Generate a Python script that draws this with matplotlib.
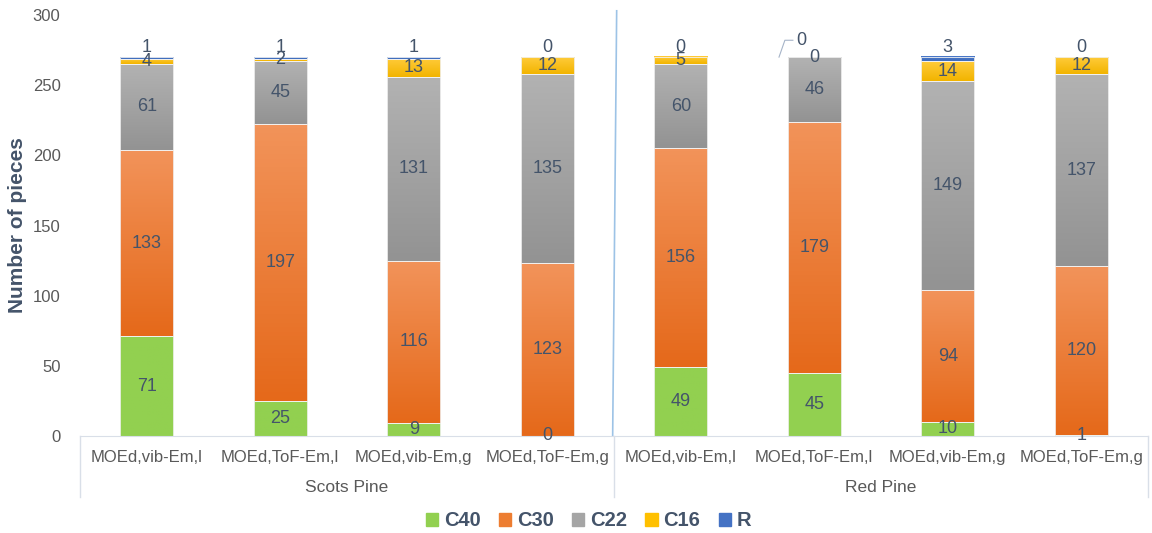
import numpy as np
import matplotlib
matplotlib.use("Agg")
import matplotlib.pyplot as plt
from matplotlib.colors import LinearSegmentedColormap

plt.rcParams["font.family"] = ["Liberation Sans", "DejaVu Sans"]

# data
species = ["Scots Pine", "Red Pine"]
methods = ["MOEd,vib-Em,l", "MOEd,ToF-Em,l", "MOEd,vib-Em,g", "MOEd,ToF-Em,g"]
grades = ["C40", "C30", "C22", "C16", "R"]
c40 = [71, 25, 9, 0, 49, 45, 10, 1]
c30 = [133, 197, 116, 123, 156, 179, 94, 120]
c22 = [61, 45, 131, 135, 60, 46, 149, 137]
c16 = [4, 2, 13, 12, 5, 0, 14, 12]
r = [1, 1, 1, 0, 0, 0, 3, 0]

# (top colour, bottom colour) per grade
grade_colors = {
    "C40": ("#92d050", "#92d050"),
    "C30": ("#f2935a", "#e5691a"),
    "C22": ("#b2b2b2", "#939393"),
    "C16": ("#ffcb3a", "#f2b400"),
    "R": ("#4a78c8", "#3f6cbc"),
}
legend_colors = {"C40": "#92d050", "C30": "#ed7d31", "C22": "#a5a5a5",
                 "C16": "#ffc000", "R": "#4472c4"}
text_col = "#44546a"

fig = plt.figure(figsize=(11.52, 5.33), dpi=100)
ax = fig.add_axes([80 / 1152, 1 - 436 / 533, 1068 / 1152, 421 / 533])

n = len(c40)
x = np.arange(n)
width = 0.4
series = [c40, c30, c22, c16, r]
bottom = np.zeros(n)
grad = np.linspace(0, 1, 64).reshape(-1, 1)

for g, vals in zip(grades, series):
    vals = np.array(vals, dtype=float)
    top_c, bot_c = grade_colors[g]
    cmap = LinearSegmentedColormap.from_list(g, [bot_c, top_c])
    for i in range(n):
        if vals[i] > 0:
            ax.imshow(grad, extent=(x[i] - width / 2, x[i] + width / 2, bottom[i], bottom[i] + vals[i]),
                      origin="lower", aspect="auto", cmap=cmap, vmin=0, vmax=1, zorder=2)
            ax.bar(x[i], vals[i], width, bottom=bottom[i], fill=False,
                   edgecolor="#f2f2f2", linewidth=0.6, zorder=3)
        # data labels
        if g == "R":
            if i == 5:
                # label moved aside with a leader line, as in the original
                ax.plot([x[i] - 0.264, x[i] - 0.22, x[i] - 0.16], [270, 282, 282],
                        color="#a6b4c8", lw=0.8, zorder=5)
                ax.text(x[i] - 0.1, 282, "0", ha="center", va="center",
                        fontsize=13, color=text_col, zorder=5)
            else:
                ax.text(x[i], 276.5, f"{int(vals[i])}", ha="center", va="center",
                        fontsize=13, color=text_col, zorder=5)
        else:
            ax.text(x[i], bottom[i] + vals[i] / 2, f"{int(vals[i])}", ha="center", va="center",
                    fontsize=13, color=text_col, zorder=5)
    bottom += vals

ax.set_xlim(-0.5, n - 0.5)
ax.set_ylim(0, 300)
ax.set_yticks(range(0, 301, 50))
ax.tick_params(axis="y", length=0, labelsize=12, labelcolor="#595959", pad=14)
ax.set_xticks([])
for s in ["top", "right", "left"]:
    ax.spines[s].set_visible(False)
ax.spines["bottom"].set_color("#d9dfe8")
ax.set_ylabel("Number of pieces", fontsize=15, fontweight="bold", color=text_col)
ax.yaxis.set_label_coords(-0.05, 0.5)

# separator between species inside the plot
ax.plot([3.52, 3.49], [303, 0], color="#9dc3e6", lw=1.2, zorder=1, clip_on=False)

# category axis: method labels, species labels and box lines
trans = ax.get_xaxis_transform()
for i in range(n):
    ax.text(x[i], -0.05, methods[i % 4], transform=trans, ha="center", va="center",
            fontsize=12, color="#595959")
for k, sp in enumerate(species):
    ax.text(1.5 + 4 * k, -0.123, sp, transform=trans, ha="center", va="center",
            fontsize=12.5, color="#595959")
for xv in [-0.5, 3.5, 7.5]:
    ax.plot([xv, xv], [0, -0.145], transform=trans, color="#d9dfe8", lw=1, clip_on=False)

# legend
handles = [plt.Rectangle((0, 0), 1, 1, color=legend_colors[g]) for g in grades]
fig.legend(handles, grades, loc="center", bbox_to_anchor=(0.511, 1 - 521 / 533), ncol=5,
           frameon=False, handlelength=0.6, handleheight=0.6, handletextpad=0.3,
           columnspacing=0.9, prop=dict(size=14.5, weight="bold"), labelcolor=text_col)

fig.savefig("out.png", dpi=100)
